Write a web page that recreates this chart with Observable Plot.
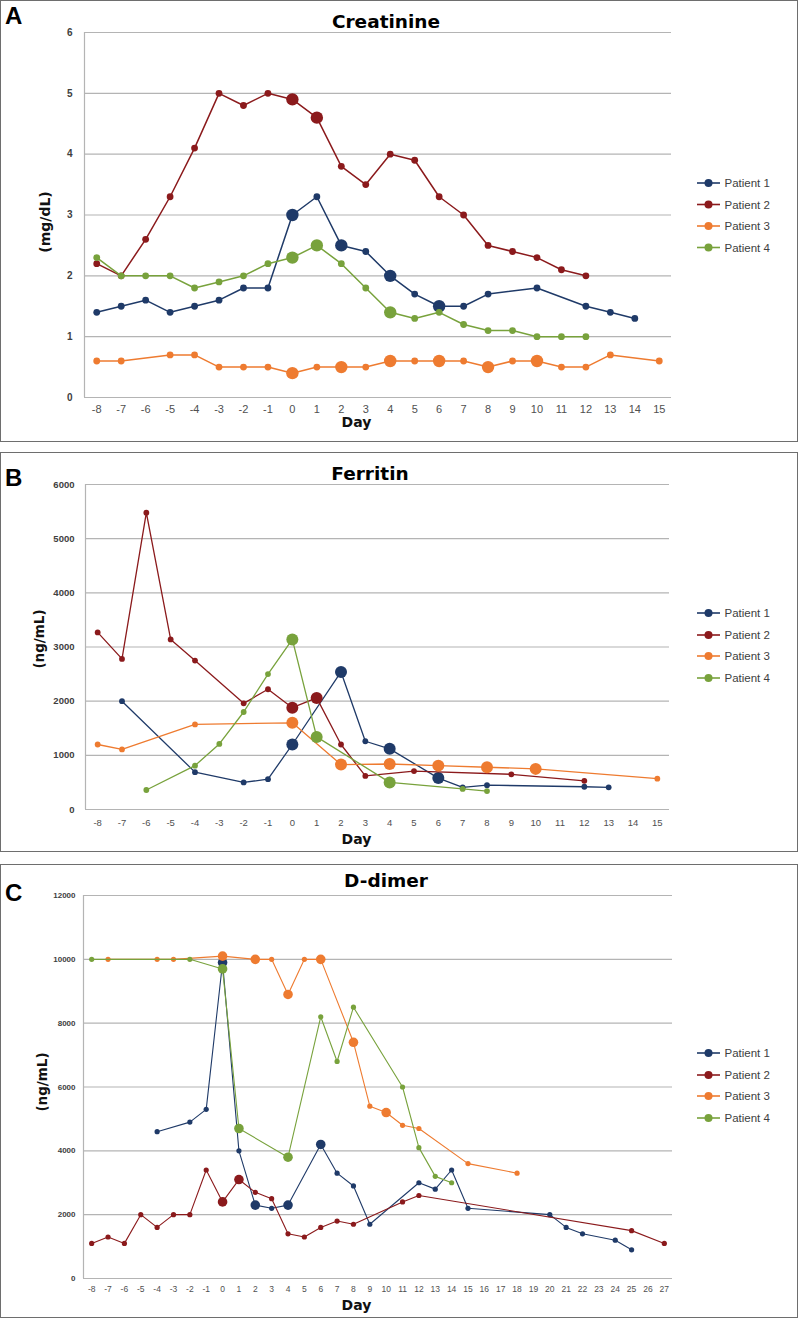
<!DOCTYPE html>
<html>
<head>
<meta charset="utf-8">
<script src="https://cdn.jsdelivr.net/npm/d3@7"></script>
<script src="https://cdn.jsdelivr.net/npm/@observablehq/plot@0.6"></script>
<style>
  html, body { margin: 0; padding: 0; background: #fff; }
  #page { position: relative; width: 800px; height: 1318px; overflow: hidden; }
  .panel { position: absolute; left: 0; width: 798px; border: 1px solid #6e6e6e; box-sizing: border-box; }
  .chart { position: absolute; left: 0; }
</style>
</head>
<body>
<div id="page"></div>
<script>
// ---------------- DATA ----------------
const patientNames = ["Patient 1", "Patient 2", "Patient 3", "Patient 4"];
// days on which each patient's marker is drawn large
const largeMarkerDays = [[0, 2, 4, 6], [0, 1], [0, 2, 4, 6, 8, 10], [0, 1, 4]];

// Creatinine (mg/dL), aligned with creatinineDays
const creatinineDays = [-8, -7, -6, -5, -4, -3, -2, -1, 0, 1, 2, 3, 4, 5, 6, 7, 8, 9, 10, 11, 12, 13, 14, 15];
const creatinineTicks = [0, 1, 2, 3, 4, 5, 6];
const creatinineP1 = [1.4, 1.5, 1.6, 1.4, 1.5, 1.6, 1.8, 1.8, 3.0, 3.3, 2.5, 2.4, 2.0, 1.7, 1.5, 1.5, 1.7, null, 1.8, null, 1.5, 1.4, 1.3, null];
const creatinineP2 = [2.2, 2.0, 2.6, 3.3, 4.1, 5.0, 4.8, 5.0, 4.9, 4.6, 3.8, 3.5, 4.0, 3.9, 3.3, 3.0, 2.5, 2.4, 2.3, 2.1, 2.0, null, null, null];
const creatinineP3 = [0.6, 0.6, null, 0.7, 0.7, 0.5, 0.5, 0.5, 0.4, 0.5, 0.5, 0.5, 0.6, 0.6, 0.6, 0.6, 0.5, 0.6, 0.6, 0.5, 0.5, 0.7, null, 0.6];
const creatinineP4 = [2.3, 2.0, 2.0, 2.0, 1.8, 1.9, 2.0, 2.2, 2.3, 2.5, 2.2, 1.8, 1.4, 1.3, 1.4, 1.2, 1.1, 1.1, 1.0, 1.0, 1.0, null, null, null];

// Ferritin (ng/mL), aligned with ferritinDays
const ferritinDays = [-8, -7, -6, -5, -4, -3, -2, -1, 0, 1, 2, 3, 4, 5, 6, 7, 8, 9, 10, 11, 12, 13, 14, 15];
const ferritinTicks = [0, 1000, 2000, 3000, 4000, 5000, 6000];
const ferritinP1 = [null, 2000, null, null, 690, null, 500, 560, 1200, null, 2540, 1260, 1120, null, 580, 410, 450, null, null, null, 420, 410, null, null];
const ferritinP2 = [3270, 2780, 5480, 3140, 2750, null, 1960, 2220, 1880, 2060, 1200, 620, null, 710, null, null, null, 650, null, null, 530, null, null, null];
const ferritinP3 = [1200, 1110, null, null, 1570, null, null, null, 1600, null, 830, null, 840, null, 810, null, 780, null, 750, null, null, null, null, 570];
const ferritinP4 = [null, null, 360, null, 810, 1210, 1800, 2500, 3140, 1340, null, null, 500, null, null, 380, 340, null, null, null, null, null, null, null];

// D-dimer (ng/mL), aligned with ddimerDays
const ddimerDays = [-8, -7, -6, -5, -4, -3, -2, -1, 0, 1, 2, 3, 4, 5, 6, 7, 8, 9, 10, 11, 12, 13, 14, 15, 16, 17, 18, 19, 20, 21, 22, 23, 24, 25, 26, 27];
const ddimerTicks = [0, 2000, 4000, 6000, 8000, 10000, 12000];
const ddimerP1 = [null, null, null, null, 4600, null, 4900, 5300, 9900, 4000, 2300, 2200, 2300, null, 4200, 3300, 2900, 1700, null, null, 3000, 2800, 3400, 2200, null, null, null, null, 2000, 1600, 1400, null, 1200, 900, null, null];
const ddimerP2 = [1100, 1300, 1100, 2000, 1600, 2000, 2000, 3400, 2400, 3100, 2700, 2500, 1400, 1300, 1600, 1800, 1700, null, null, 2400, 2600, null, null, null, null, null, null, null, null, null, null, null, null, 1500, null, 1100];
const ddimerP3 = [null, 10000, null, null, 10000, 10000, null, null, 10100, null, 10000, 10000, 8900, 10000, 10000, null, 7400, 5400, 5200, 4800, 4700, null, null, 3600, null, null, 3300, null, null, null, null, null, null, null, null, null];
const ddimerP4 = [10000, null, null, null, null, null, 10000, null, 9700, 4700, null, null, 3800, null, 8200, 6800, 8500, null, null, 6000, 4100, 3200, 3000, null, null, null, null, null, null, null, null, null, null, null, null, null];

// ---------------- STYLE ----------------
const patientColors = ["#1F3A68", "#8B1A1C", "#EE7B30", "#78A23C"];
const gridColor = "#b4b4b4";
const tickColor = "#404040";
const boldFont = "'DejaVu Sans', Verdana, sans-serif";
const labelFont = "'Liberation Sans', Arial, sans-serif";

const panels = [
  { top: 0, height: 442, mL: 84, mR: 129, mT: 32, mB: 45,
    days: creatinineDays, series: [creatinineP1, creatinineP2, creatinineP3, creatinineP4], ticks: creatinineTicks,
    xFont: 11, yFont: 10, xPad: 8, yPad: 12, rS: 3.4, rB: 6.2, sw: 1.5,
    letter: "A", letterBase: 24, title: "Creatinine", titleX: 386, titleBase: 28, titleSize: 18.5,
    ylab: "(mg/dL)", ylabX: 45, ylabY: 222, ylabSize: 14, dayBase: 427, daySize: 14,
    legendY: [183, 204.5, 226, 247.5] },
  { top: 452, height: 400, mL: 85, mR: 131, mT: 32, mB: 43,
    days: ferritinDays, series: [ferritinP1, ferritinP2, ferritinP3, ferritinP4], ticks: ferritinTicks,
    xFont: 9.5, yFont: 9.5, xPad: 9.5, yPad: 11, rS: 2.9, rB: 6, sw: 1.3,
    letter: "B", letterBase: 34, title: "Ferritin", titleX: 370, titleBase: 28, titleSize: 18.5,
    ylab: "(ng/mL)", ylabX: 39, ylabY: 187, ylabSize: 13.5, dayBase: 392, daySize: 14,
    legendY: [161, 183, 204, 226] },
  { top: 864, height: 454, mL: 83, mR: 128, mT: 31, mB: 40,
    days: ddimerDays, series: [ddimerP1, ddimerP2, ddimerP3, ddimerP4], ticks: ddimerTicks,
    xFont: 8.5, yFont: 8, xPad: 7.5, yPad: 8, rS: 2.6, rB: 4.8, sw: 1.1,
    letter: "C", letterBase: 37, title: "D-dimer", titleX: 386, titleBase: 23, titleSize: 18.5,
    ylab: "(ng/mL)", ylabX: 42, ylabY: 218, ylabSize: 13.5, dayBase: 446, daySize: 14,
    legendY: [189, 211, 232, 254] }
];

function toRows(days, series) {
  const rows = [];
  series.forEach((vals, p) => {
    vals.forEach((v, j) => {
      if (v !== null && v !== undefined) {
        rows.push({ p, day: days[j], value: v, big: largeMarkerDays[p].includes(days[j]) });
      }
    });
  });
  return rows;
}

const page = document.getElementById("page");

for (const cfg of panels) {
  const box = document.createElement("div");
  box.className = "panel";
  box.style.top = cfg.top + "px";
  box.style.height = cfg.height + "px";
  page.appendChild(box);

  const rows = toRows(cfg.days, cfg.series);
  const d0 = cfg.days[0], d1 = cfg.days[cfg.days.length - 1];
  const ymax = cfg.ticks[cfg.ticks.length - 1];

  const seriesMarks = [];
  patientNames.forEach((name, p) => {
    const pr = rows.filter(r => r.p === p);
    seriesMarks.push(
      Plot.line(pr, { x: "day", y: "value", stroke: patientColors[p], strokeWidth: cfg.sw, strokeLinejoin: "round" }),
      Plot.dot(pr.filter(r => !r.big), { x: "day", y: "value", r: cfg.rS, fill: patientColors[p] }),
      Plot.dot(pr.filter(r => r.big), { x: "day", y: "value", r: cfg.rB, fill: patientColors[p] })
    );
  });

  const chart = Plot.plot({
    width: 800,
    height: cfg.height,
    marginLeft: cfg.mL, marginRight: cfg.mR, marginTop: cfg.mT, marginBottom: cfg.mB,
    style: { fontFamily: labelFont, background: "transparent", overflow: "visible" },
    x: { type: "linear", domain: [d0 - 0.5, d1 + 0.5] },
    y: { type: "linear", domain: [0, ymax] },
    marks: [
      Plot.ruleY(cfg.ticks, { stroke: gridColor, strokeWidth: 1.2 }),
      Plot.ruleX([d0 - 0.5], { stroke: gridColor, strokeWidth: 1.2 }),
      Plot.axisX({ ticks: cfg.days, tickFormat: d => String(d), tickSize: 0, tickPadding: cfg.xPad,
                   fontSize: cfg.xFont, color: "#505050", label: null }),
      Plot.axisY({ ticks: cfg.ticks, tickFormat: d => String(d), tickSize: 0, tickPadding: cfg.yPad,
                   fontSize: cfg.yFont, color: tickColor, label: null }),
      ...seriesMarks
    ]
  });
  chart.classList.add("chart");
  chart.style.top = cfg.top + "px";
  page.appendChild(chart);

  const svg = d3.select(chart);
  svg.selectAll('g[aria-label="y-axis tick label"]').attr("font-weight", "bold");

  // panel letter
  svg.append("text").attr("x", 5).attr("y", cfg.letterBase).attr("text-anchor", "start")
    .attr("font-family", labelFont).attr("font-weight", "bold").attr("font-size", 24)
    .attr("fill", "#000").text(cfg.letter);
  // title
  svg.append("text").attr("x", cfg.titleX).attr("y", cfg.titleBase).attr("text-anchor", "middle")
    .attr("font-family", boldFont).attr("font-weight", "bold").attr("font-size", cfg.titleSize)
    .attr("fill", "#000").text(cfg.title);
  // y label
  svg.append("text").attr("transform", `translate(${cfg.ylabX},${cfg.ylabY}) rotate(-90)`)
    .attr("text-anchor", "middle").attr("dy", "0.35em")
    .attr("font-family", boldFont).attr("font-weight", "bold").attr("font-size", cfg.ylabSize)
    .attr("fill", "#111").text(cfg.ylab);
  // x label
  svg.append("text").attr("x", 356.5).attr("y", cfg.dayBase).attr("text-anchor", "middle")
    .attr("font-family", boldFont).attr("font-weight", "bold").attr("font-size", cfg.daySize)
    .attr("fill", "#111").text("Day");
  // legend
  const lg = svg.append("g").attr("aria-label", "legend");
  patientNames.forEach((name, p) => {
    const g = lg.append("g").attr("transform", `translate(0,${cfg.legendY[p]})`);
    g.append("line").attr("x1", 697).attr("x2", 720).attr("y1", 0).attr("y2", 0)
      .attr("stroke", patientColors[p]).attr("stroke-width", 1.6);
    g.append("circle").attr("cx", 708.5).attr("cy", 0).attr("r", 4).attr("fill", patientColors[p]);
    g.append("text").attr("x", 724.5).attr("y", 0).attr("dy", "0.35em").attr("text-anchor", "start")
      .attr("font-family", labelFont).attr("font-size", 11.5).attr("fill", tickColor).text(name);
  });
}
</script>
</body>
</html>
